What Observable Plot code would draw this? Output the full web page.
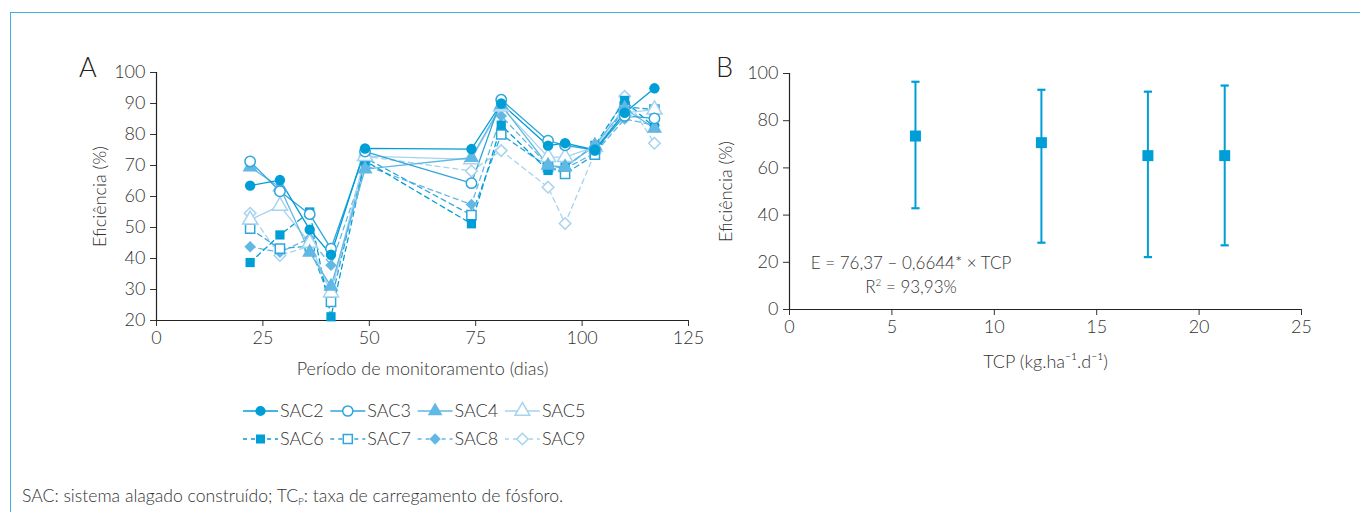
<!DOCTYPE html>
<html>
<head>
<meta charset="utf-8">
<script src="https://cdn.jsdelivr.net/npm/d3@7"></script>
<script src="https://cdn.jsdelivr.net/npm/@observablehq/plot@0.6"></script>
<style>
  html, body { margin: 0; padding: 0; background: #fff; }
  body { width: 1360px; height: 512px; position: relative; overflow: hidden;
         font-family: Lato, "Open Sans", sans-serif; font-weight: 300; color: #333; }
  #frame { position: absolute; left: 10px; top: 12px; width: 1360px; height: 520px;
           border-left: 1.5px solid #3cb2dc; border-top: 1.5px solid #3cb2dc; }
  .abs { position: absolute; }
  .panel-letter { font-size: 27px; color: #222; }
  #caption { left: 22px; top: 485px; font-size: 17.6px; color: #333; white-space: nowrap; }
  #caption sub { font-size: 10px; vertical-align: -3px; }
  .eq { font-size: 17px; color: #333; white-space: nowrap; transform: translateX(-50%); }
  .eq sup { font-size: 10px; vertical-align: 7px; }
</style>
</head>
<body>
<div id="frame"></div>
<div id="chartA" class="abs" style="left:0;top:0"></div>
<div id="chartB" class="abs" style="left:700px;top:0"></div>
<div class="abs panel-letter" style="left:79px;top:50px">A</div>
<div class="abs panel-letter" style="left:716px;top:50px">B</div>
<div class="abs eq" style="left:911px;top:252px">E = 76,37 – 0,6644* × TCP</div>
<div class="abs eq" style="left:911px;top:276px">R<sup>2</sup> = 93,93%</div>
<svg id="legend" class="abs" style="left:230px;top:395px" width="420" height="60"></svg>
<div id="caption" class="abs">SAC: sistema alagado construído; TC<sub>P</sub>: taxa de carregamento de fósforo.</div>

<script>
// ---------- DATA (panel A) ----------
const days = [22, 29, 36, 41, 49, 74, 81, 92, 96, 103, 110, 117];
const seriesNames = ["SAC2", "SAC3", "SAC4", "SAC5", "SAC6", "SAC7", "SAC8", "SAC9"];
const SAC2 = [63.5, 65.3, 49.3, 41.2, 75.5, 75.3, 90.0, 76.4, 77.2, 75.0, 87.0, 94.9];
const SAC3 = [71.3, 61.7, 54.3, 43.2, 74.5, 64.3, 91.2, 78.0, 76.5, 75.0, 86.0, 85.2];
const SAC4 = [69.5, 63.0, 42.0, 31.0, 68.8, 72.5, 89.5, 70.0, 69.5, 76.5, 88.4, 82.0];
const SAC5 = [52.5, 57.0, 45.0, 29.0, 73.0, 72.0, 89.0, 72.7, 72.7, 76.0, 87.0, 88.0];
const SAC6 = [38.7, 47.6, 55.0, 21.2, 71.5, 51.2, 83.0, 68.4, 69.5, 76.5, 91.0, 82.2];
const SAC7 = [49.6, 43.2, 44.0, 26.0, 72.5, 54.0, 80.0, 69.5, 67.3, 73.5, 89.0, 88.0];
const SAC8 = [43.8, 42.0, 46.5, 37.8, 70.0, 57.4, 86.0, 70.0, 69.0, 74.0, 85.0, 83.0];
const SAC9 = [54.6, 41.0, 44.0, 28.0, 73.0, 68.2, 74.8, 63.0, 51.3, 74.0, 92.3, 77.2];
const xTicksA = [0, 25, 50, 75, 100, 125];
const yTicksA = [20, 30, 40, 50, 60, 70, 80, 90, 100];

// ---------- DATA (panel B) ----------
const tcp   = [6.15, 12.3, 17.5, 21.25];
const effMean  = [73.5, 70.7, 65.2, 65.2];
const effUpper = [96.5, 93.1, 92.3, 94.9];
const effLower = [42.9, 28.3, 22.2, 27.2];
const xTicksB = [0, 5, 10, 15, 20, 25];
const yTicksB = [0, 20, 40, 60, 80, 100];

// ---------- STYLES ----------
const FONT = "Lato, 'Open Sans', sans-serif";
const seriesValues = {SAC2, SAC3, SAC4, SAC5, SAC6, SAC7, SAC8, SAC9};
const style = {
  SAC2: {color: "#009ed6", symbol: "circle",   fill: true,  dash: null},
  SAC3: {color: "#2fa6dc", symbol: "circle",   fill: false, dash: null},
  SAC4: {color: "#62b8e4", symbol: "triangle", fill: true,  dash: null},
  SAC5: {color: "#a6d3ef", symbol: "triangle", fill: false, dash: null},
  SAC6: {color: "#009ed6", symbol: "square",   fill: true,  dash: "5,4"},
  SAC7: {color: "#2fa6dc", symbol: "square",   fill: false, dash: "5,4"},
  SAC8: {color: "#62b8e4", symbol: "diamond2", fill: true,  dash: "5,4"},
  SAC9: {color: "#a6d3ef", symbol: "diamond2", fill: false, dash: "5,4"}
};

const rows = seriesNames.flatMap(s => days.map((d, i) => ({series: s, day: d, value: seriesValues[s][i]})));

const lineMarks = seriesNames.slice().reverse().map(s =>
  Plot.line(rows.filter(r => r.series === s), {
    x: "day", y: "value", stroke: style[s].color, strokeWidth: 1.3,
    strokeDasharray: style[s].dash
  }));
const dotMarks = seriesNames.slice().reverse().map(s =>
  Plot.dot(rows.filter(r => r.series === s), {
    x: "day", y: "value", symbol: () => style[s].symbol,
    r: style[s].symbol === "triangle" ? 5.6 : 5.2,
    fill: style[s].fill ? style[s].color : "white",
    stroke: style[s].color, strokeWidth: style[s].fill ? 0 : 1.5
  }));

const chartA = Plot.plot({
  width: 700, height: 390,
  marginLeft: 156, marginRight: 12, marginTop: 72, marginBottom: 70,
  style: {fontFamily: FONT, fontSize: "18px", color: "#333", background: "transparent", overflow: "visible", fontWeight: 300},
  x: {domain: [0, 125], ticks: xTicksA, tickSize: 6, tickPadding: 5,
      label: "Período de monitoramento (dias)", labelAnchor: "center", labelOffset: 54, labelArrow: "none"},
  y: {domain: [20, 100], ticks: yTicksA, tickSize: 6, tickPadding: 5,
      label: "Eficiência (%)", labelAnchor: "center", labelOffset: 63, labelArrow: "none"},
  marks: [
    Plot.ruleX([0], {stroke: "#222", strokeWidth: 1.2}),
    Plot.ruleY([20], {stroke: "#222", strokeWidth: 1.2}),
    ...lineMarks,
    ...dotMarks
  ]
});
document.getElementById("chartA").append(chartA);

const rowsB = tcp.map((t, i) => ({tcp: t, mean: effMean[i], lo: effLower[i], hi: effUpper[i]}));
const BLUE = "#009ed6";
const chartB = Plot.plot({
  width: 660, height: 390,
  marginLeft: 89, marginRight: 59, marginTop: 73, marginBottom: 81,
  style: {fontFamily: FONT, fontSize: "18px", color: "#333", background: "transparent", overflow: "visible", fontWeight: 300},
  x: {domain: [0, 25], ticks: xTicksB, tickSize: 6, tickPadding: 5,
      label: "TCP (kg.ha⁻¹.d⁻¹)", labelAnchor: "center", labelOffset: 58, labelArrow: "none"},
  y: {domain: [0, 100], ticks: yTicksB, tickSize: 6, tickPadding: 5,
      label: "Eficiência (%)", labelAnchor: "center", labelOffset: 70, labelArrow: "none"},
  marks: [
    Plot.ruleX([0], {stroke: "#222", strokeWidth: 1.2}),
    Plot.ruleY([0], {stroke: "#222", strokeWidth: 1.2}),
    Plot.ruleX(rowsB, {x: "tcp", y1: "lo", y2: "hi", stroke: BLUE, strokeWidth: 2}),
    Plot.link(rowsB, {x1: d => d.tcp - 0.2, x2: d => d.tcp + 0.2, y1: "hi", y2: "hi", stroke: BLUE, strokeWidth: 2.2}),
    Plot.link(rowsB, {x1: d => d.tcp - 0.2, x2: d => d.tcp + 0.2, y1: "lo", y2: "lo", stroke: BLUE, strokeWidth: 2.2}),
    Plot.dot(rowsB, {x: "tcp", y: "mean", symbol: "square", r: 6.2, fill: BLUE})
  ]
});
document.getElementById("chartB").append(chartB);

// ---------- LEGEND ----------
const leg = d3.select("#legend");
const symMap = {circle: d3.symbolCircle, triangle: d3.symbolTriangle, square: d3.symbolSquare, diamond2: d3.symbolDiamond2};
seriesNames.forEach((s, i) => {
  const row = Math.floor(i / 4), col = i % 4;
  const g = leg.append("g").attr("transform", `translate(${13 + col * 87.3},${16 + row * 28})`);
  const st = style[s];
  g.append("line").attr("x1", 0).attr("x2", 35).attr("y1", 0).attr("y2", 0)
    .attr("stroke", st.color).attr("stroke-width", 1.3).attr("stroke-dasharray", st.dash ? "4,4" : null);
  const size = st.symbol === "triangle" ? Math.PI * 30 : Math.PI * 26;
  g.append("path").attr("transform", "translate(17.5,0)")
    .attr("d", d3.symbol(symMap[st.symbol], size)())
    .attr("fill", st.fill ? st.color : "white")
    .attr("stroke", st.color).attr("stroke-width", st.fill ? 0 : 1.5);
  g.append("text").attr("x", 37).attr("y", 0).attr("dy", "0.35em")
    .attr("font-family", FONT).attr("font-weight", 300).attr("font-size", 18).attr("fill", "#333")
    .text(s);
});
</script>
</body>
</html>
